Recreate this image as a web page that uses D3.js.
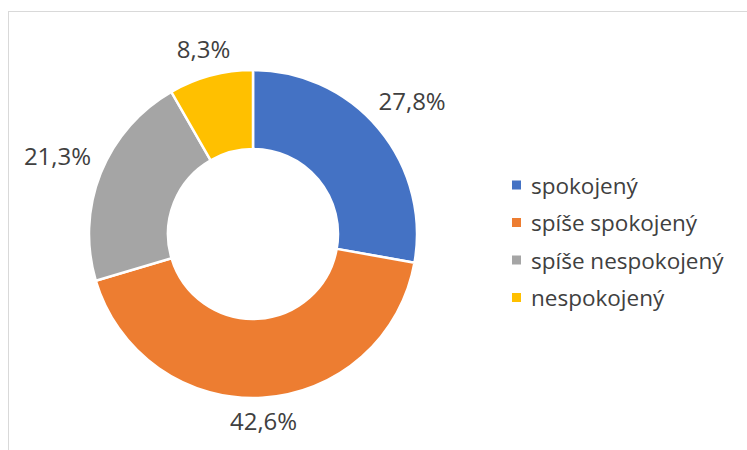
<!DOCTYPE html>
<html><head><meta charset="utf-8">
<script src="https://cdn.jsdelivr.net/npm/d3@7"></script>
<style>html,body{margin:0;padding:0;background:#fff;}svg{display:block;}</style>
</head><body>
<svg id="c" width="747" height="450"></svg>
<script>
const categories = ["spokojený", "spíše spokojený", "spíše nespokojený", "nespokojený"];
const values = [27.8, 42.6, 21.3, 8.3];
const labels = ["27,8%", "42,6%", "21,3%", "8,3%"];
const colors = ["#4472C4", "#ED7D31", "#A5A5A5", "#FFC000"];

const svg = d3.select("#c");
const cx = 253, cy = 234, R = 164, r = 85;
const font = "'Open Sans', 'Noto Sans', sans-serif";

svg.append("rect").attr("x", 8.5).attr("y", 11.5).attr("width", 900).attr("height", 600)
  .attr("fill", "#fff").attr("stroke", "#d9d9d9").attr("stroke-width", 1);

const data = categories.map((c, i) => ({cat: c, value: values[i], label: labels[i], color: colors[i]}));
const pie = d3.pie().value(d => d.value).sort(null);
const arcs = pie(data);
const arc = d3.arc().innerRadius(r).outerRadius(R);

const g = svg.append("g").attr("transform", `translate(${cx},${cy})`);
g.selectAll("path").data(arcs).join("path")
  .attr("d", arc).attr("fill", d => d.data.color)
  .attr("stroke", "#fff").attr("stroke-width", 2.5).attr("stroke-linejoin", "miter");

const gap = 12;
g.selectAll("text.lbl").data(arcs).join("text").attr("class", "lbl")
  .attr("font-family", font).attr("font-size", 24).attr("fill", "#404040")
  .attr("text-anchor", "middle").attr("dominant-baseline", "central")
  .text(d => d.data.label)
  .each(function(d) {
    const bb = this.getBBox();
    const a = (d.startAngle + d.endAngle) / 2;
    const sx = Math.sin(a), sy = -Math.cos(a);
    const ext = (bb.width / 2) * Math.abs(sx) + 9 * Math.abs(sy);
    const dist = R + gap + ext;
    d3.select(this).attr("x", sx * dist).attr("y", sy * dist);
  });

const legend = svg.append("g").attr("transform", "translate(512,185)");
const li = legend.selectAll("g").data(data).join("g")
  .attr("transform", (d, i) => `translate(0,${i * 37.5})`);
li.append("rect").attr("x", 0).attr("y", -4.5).attr("width", 9).attr("height", 9).attr("fill", d => d.color);
li.append("text").attr("x", 19).attr("y", 0).attr("dominant-baseline", "central")
  .attr("font-family", font).attr("font-size", 22.5).attr("fill", "#404040")
  .text(d => d.cat);
</script>
</body></html>
